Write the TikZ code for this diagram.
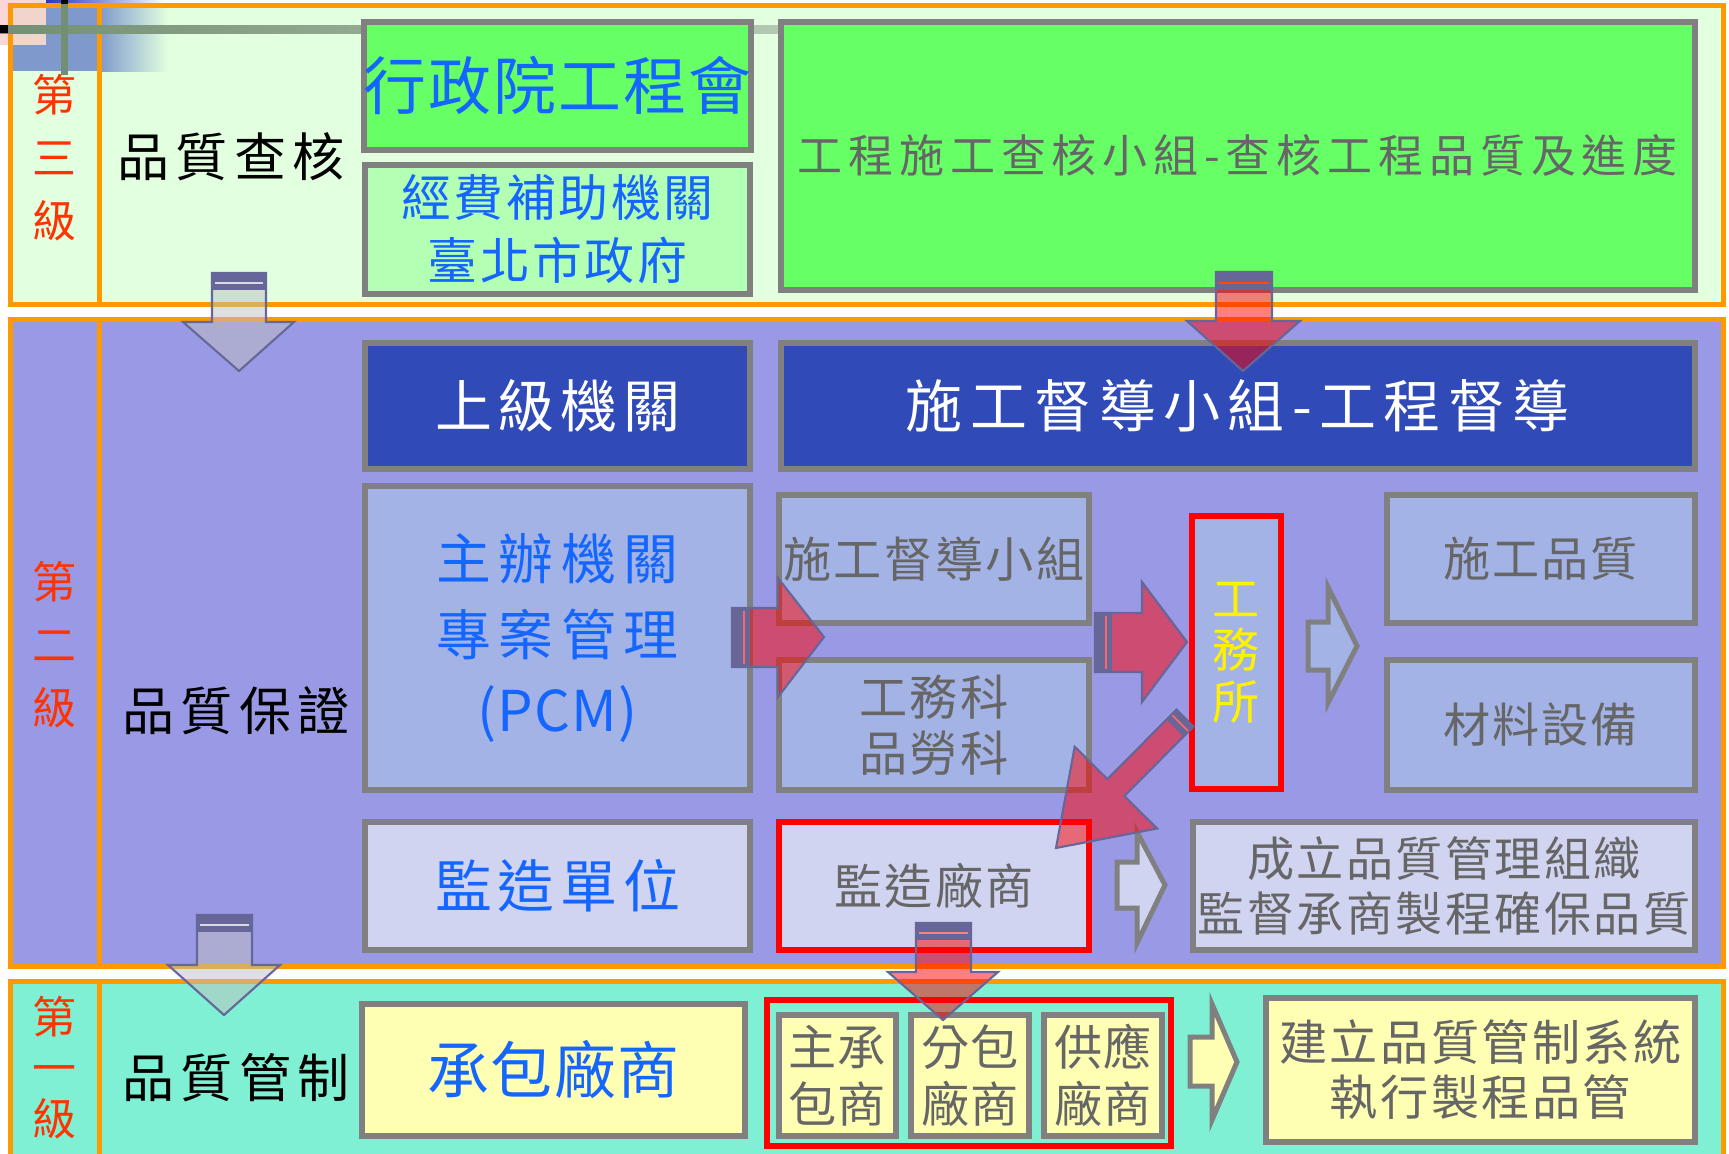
\documentclass[tikz,border=0pt]{standalone}
\usepackage{fontspec}
\setmainfont{Noto Sans CJK TC}

\definecolor{cOrange}{HTML}{FF9900}
\definecolor{cBandA}{HTML}{E2FFE0}
\definecolor{cBandB}{HTML}{9999E6}
\definecolor{cBandC}{HTML}{7FF0D4}
\definecolor{cGray}{HTML}{808080}
\definecolor{cGreen}{HTML}{66FF66}
\definecolor{cPaleGreen}{HTML}{B3FFB3}
\definecolor{cDarkBlue}{HTML}{304BB8}
\definecolor{cMidBlue}{HTML}{A3B3E6}
\definecolor{cPaleBlue}{HTML}{D0D4F0}
\definecolor{cYellow}{HTML}{FFFFB3}
\definecolor{cBlueText}{HTML}{1466FF}
\definecolor{cGrayText}{HTML}{666666}
\definecolor{cRedText}{HTML}{FF3300}
\definecolor{cEdge}{HTML}{666699}
\definecolor{cDecoBlue}{HTML}{7F99CC}
\definecolor{cPink}{HTML}{F8C4C4}
\definecolor{cLineA}{HTML}{738F73}
\definecolor{cLineB}{HTML}{B5C9B5}
\definecolor{cTopBlue}{HTML}{3030C8}

\newcommand\fs[3]{\fontsize{#1}{#2}\selectfont\addfontfeature{LetterSpace=#3}}

\tikzset{
  band/.style={draw=cOrange, line width=1.42pt},
  box/.style={draw=cGray, line width=1.7pt, inner sep=0pt, align=center},
  redbox/.style={box, draw=red},
  hollow/.style={draw=cGray, line width=1.42pt},
  redarrow/.style={fill=red, fill opacity=0.5, draw=cEdge, line width=0.6pt},
  grayarrow/.style={fill=gray!50, fill opacity=0.5, draw=cEdge, line width=0.6pt},
  level/.style={text=cRedText, align=center, inner sep=0pt, font=\fs{12.5pt}{17.9pt}{0}},
  title/.style={inner sep=0pt, font=\fs{14.8pt}{14.8pt}{12}},
}

\begin{document}
\begin{tikzpicture}[x=0.01cm,y=-0.01cm]
  \clip (0,0) rectangle (1729,1154);

  % bands
  \fill[cBandA] (10.5,5.5) rectangle (1723,304.5);
  \fill[cBandB] (10.5,319.5) rectangle (1723,966.5);
  \fill[cBandC] (10.5,981.5) rectangle (1723,1170);

  % template corner
  \fill[cPink, fill opacity=0.7] (0,0) rectangle (46,45);
  \fill[cDecoBlue] (13,45) rectangle (99,71);
  \fill[cDecoBlue] (46,8) rectangle (99,45);
  \shade[left color=cDecoBlue, right color=cBandA] (99,8) rectangle (168,71);
  \shade[left color=cTopBlue, right color=white] (46,0) rectangle (165,4);

  \draw[band] (10.5,5.5) rectangle (1723,304.5) (99.5,5.5) -- (99.5,304.5);
  \draw[band] (10.5,319.5) rectangle (1723,966.5) (99.5,319.5) -- (99.5,966.5);
  \draw[band] (10.5,981.5) rectangle (1723,1170) (99.5,981.5) -- (99.5,1170);

  \shade[left color=cLineA, right color=cLineB] (0,25) rectangle (790,33);
  \fill[black] (0,25) rectangle (8,33);
  \fill[cLineA] (61,0) rectangle (68,75);
  \fill[black] (61,0) rectangle (68,4);

  % left column
  \node[level] (lvC) at (54,158) {第\\三\\級};
  \node[level] (lvB) at (54,645) {第\\二\\級};
  \node[level, font=\fs{12.5pt}{14.5pt}{0}] (lvA) at (54,1068) {第\\一\\級};
  \node[title] (tC) at (231,157) {品質查核};
  \node[title] (tB) at (236,711) {品質保證};
  \node[title] (tA) at (236,1078) {品質管制};

  % level three
  \node[box, fill=cGreen, minimum width=3.84cm, minimum height=1.275cm, text=cBlueText, font=\fs{17.9pt}{17.9pt}{3}] (xzy) at (557.5,85.75) {行政院工程會};
  \node[box, fill=cPaleGreen, minimum width=3.84cm, minimum height=1.28cm, text=cBlueText, font=\fs{14.2pt}{17.9pt}{5}] (jfbz) at (557.5,229.5) {經費補助機關\\臺北市政府};
  \node[box, fill=cGreen, minimum width=9.135cm, minimum height=2.675cm, text=cGrayText, font=\fs{12.8pt}{12.8pt}{13}] (gcch) at (1237.75,155.75) {工程施工查核小組-查核工程品質及進度};

  % level two
  \node[box, fill=cDarkBlue, minimum width=3.84cm, minimum height=1.26cm, text=white, font=\fs{16.2pt}{16.2pt}{10}] (sjjg) at (557.5,406) {上級機關};
  \node[box, fill=cDarkBlue, minimum width=9.135cm, minimum height=1.26cm, text=white, font=\fs{16.2pt}{16.2pt}{13}] (sgdd) at (1237.75,406) {施工督導小組-工程督導};
  \node[box, fill=cMidBlue, minimum width=3.84cm, minimum height=3.04cm, text=cBlueText, font=\fs{15.6pt}{21.6pt}{14}] (zbjg) at (557.5,638) {主辦機關\\專案管理\\{\fs{16pt}{21.6pt}{2}(PCM)}};
  \node[box, fill=cMidBlue, minimum width=3.09cm, minimum height=1.27cm, text=cGrayText, font=\fs{13.7pt}{13.7pt}{5}] (sgxz) at (934,559) {施工督導小組};
  \node[box, fill=cMidBlue, minimum width=3.09cm, minimum height=1.29cm, text=cGrayText, font=\fs{13.7pt}{15.9pt}{5}] (gwk) at (934,725) {工務科\\品勞科};
  \node[redbox, fill=cMidBlue, minimum width=0.885cm, minimum height=2.725cm, text=yellow, font=\fs{13.4pt}{14.7pt}{0}] (gws) at (1236.25,652.75) {工\\務\\所};
  \node[box, fill=cMidBlue, minimum width=3.075cm, minimum height=1.27cm, text=cGrayText, font=\fs{13.4pt}{13.4pt}{4}] (sgpz) at (1540.75,559) {施工品質};
  \node[box, fill=cMidBlue, minimum width=3.075cm, minimum height=1.29cm, text=cGrayText, font=\fs{13.4pt}{13.4pt}{4}] (clsb) at (1540.75,725) {材料設備};
  \node[box, fill=cPaleBlue, minimum width=3.84cm, minimum height=1.275cm, text=cBlueText, font=\fs{16.2pt}{16.2pt}{10}] (jzdw) at (557.5,885.75) {監造單位};
  \node[redbox, fill=cPaleBlue, minimum width=3.09cm, minimum height=1.28cm, text=cGrayText, font=\fs{13.7pt}{13.7pt}{5}] (jzcs) at (934,886) {監造廠商};
  \node[box, fill=cPaleBlue, minimum width=5.02cm, minimum height=1.27cm, text=cGrayText, font=\fs{13.4pt}{15.4pt}{5}] (clpz) at (1444,886) {成立品質管理組織\\監督承商製程確保品質};

  % level one
  \node[box, fill=cYellow, minimum width=3.83cm, minimum height=1.31cm, text=cBlueText, font=\fs{17.6pt}{17.6pt}{2}] (cbcs) at (553.5,1070) {承包廠商};
  \node[draw=red, line width=1.7pt, minimum width=4.04cm, minimum height=1.45cm] (grp) at (969,1073) {};
  \node[box, fill=cYellow, minimum width=1.17cm, minimum height=1.2cm, text=cGrayText, font=\fs{13.7pt}{16.2pt}{2}] (zcb) at (837.5,1075.5) {主承\\包商};
  \node[box, fill=cYellow, minimum width=1.175cm, minimum height=1.2cm, text=cGrayText, font=\fs{13.7pt}{16.2pt}{2}] (fbcs) at (970.25,1075.5) {分包\\廠商};
  \node[box, fill=cYellow, minimum width=1.175cm, minimum height=1.2cm, text=cGrayText, font=\fs{13.7pt}{16.2pt}{2}] (gycs) at (1103.25,1075.5) {供應\\廠商};
  \node[box, fill=cYellow, minimum width=4.29cm, minimum height=1.43cm, text=cGrayText, font=\fs{13.7pt}{15.6pt}{5}] (jlpz) at (1480.5,1070) {建立品質管制系統\\執行製程品管};

  % hollow arrows
  \draw[hollow, fill=cMidBlue] (1308,622) -- (1328,622) -- (1328,587) -- (1357,646) -- (1328,703) -- (1328,670) -- (1308,670) -- cycle;
  \draw[hollow, fill=cPaleBlue] (1117,862) -- (1137,862) -- (1137,832) -- (1165,885) -- (1137,943) -- (1137,908) -- (1117,908) -- cycle;
  \draw[hollow, fill=cYellow] (1190,1037) -- (1212,1037) -- (1212,1004) -- (1237,1062) -- (1212,1120) -- (1212,1086) -- (1190,1086) -- cycle;

  % gray down arrows
  \filldraw[grayarrow] (212,273) -- (266,273) -- (266,322) -- (294,322) -- (239,371) -- (183,322) -- (212,322) -- cycle;
  \fill[cEdge] (212,273) rectangle (266,290);
  \draw[white!75!cEdge, line width=0.5pt] (215,283) -- (263,283);
  \filldraw[grayarrow] (197,915) -- (252,915) -- (252,965) -- (280,965) -- (224,1015) -- (168,965) -- (197,965) -- cycle;
  \fill[cEdge] (197,915) rectangle (252,932);
  \draw[white!75!cEdge, line width=0.5pt] (200,925) -- (249,925);

  % red down arrows
  \filldraw[redarrow] (1216,272) -- (1272,272) -- (1272,321) -- (1300,321) -- (1243,371) -- (1187,321) -- (1216,321) -- cycle;
  \fill[cEdge] (1216,272) rectangle (1272,290);
  \draw[red!40!orange, line width=0.5pt] (1219,283) -- (1269,283);
  \filldraw[redarrow] (916,923) -- (971,923) -- (971,972) -- (998,972) -- (943,1020) -- (888,972) -- (916,972) -- cycle;
  \fill[cEdge] (916,923) rectangle (971,940);
  \draw[red!50!white, line width=0.5pt] (919,933) -- (968,933);

  % red right arrows
  \filldraw[redarrow] (732,608) -- (778,608) -- (778,578) -- (824,637) -- (778,697) -- (778,667) -- (732,667) -- cycle;
  \fill[cEdge] (732,608) rectangle (750,667);
  \draw[red!60!white, line width=0.5pt] (744,611) -- (744,664);
  \filldraw[redarrow] (1095,613) -- (1142,613) -- (1142,582) -- (1187,642) -- (1142,702) -- (1142,672) -- (1095,672) -- cycle;
  \fill[cEdge] (1095,613) rectangle (1112,672);
  \draw[red!60!white, line width=0.5pt] (1106,616) -- (1106,669);

  % diagonal arrow
  \filldraw[redarrow] (1176.5,709.5) -- (1107.4,779.1) -- (1074.7,746.7) -- (1056,848) -- (1157.1,828.5) -- (1124.4,796.1) -- (1193.5,726.5) -- cycle;
  \fill[cEdge] (1176.5,709.5) -- (1193.5,726.5) -- (1183.6,736.4) -- (1166.6,719.4) -- cycle;
  \draw[red!60!white, line width=0.5pt] (1187.9,730.8) -- (1172.3,715.2);
\end{tikzpicture}
\end{document}
